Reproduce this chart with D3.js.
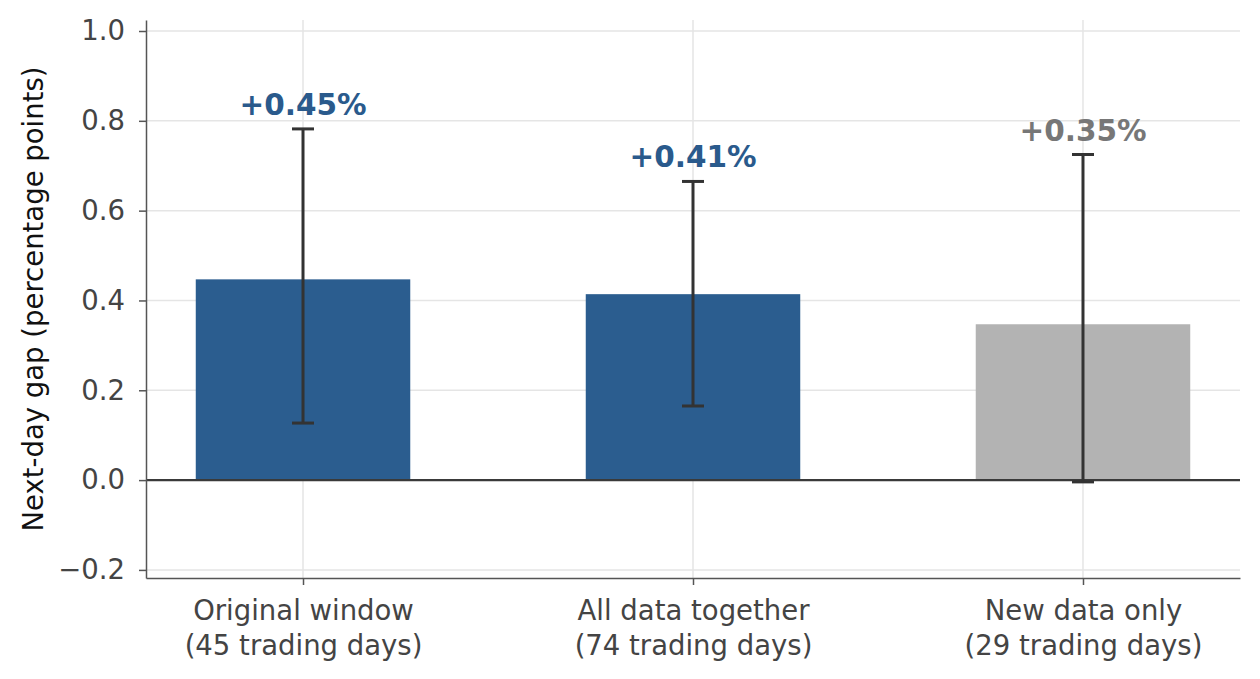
<!DOCTYPE html>
<html>
<head>
<meta charset="utf-8">
<script src="https://cdn.jsdelivr.net/npm/d3@7"></script>
<style>
  body { margin: 0; background: #fff; }
  svg { display: block; }
  svg text { font-family: "DejaVu Sans", sans-serif; }
</style>
</head>
<body>
<div id="chart"></div>
<script>
// chart data
const groups = ["Original window", "All data together", "New data only"];
const groupDays = ["(45 trading days)", "(74 trading days)", "(29 trading days)"];
const means = [0.447, 0.414, 0.347];
const ciLow = [0.127, 0.165, -0.004];
const ciHigh = [0.782, 0.665, 0.725];
const barLabels = ["+0.45%", "+0.41%", "+0.35%"];
const highlight = [true, true, false];
const yTicks = [-0.2, 0.0, 0.2, 0.4, 0.6, 0.8, 1.0];

const width = 1260, height = 679;
const margin = {left: 146, top: 20, right: 20, bottom: 101};
const blue = "#2b5d8f", grey = "#b3b3b3";
const fs = 27.5;

const svg = d3.select("#chart").append("svg")
    .attr("width", width)
    .attr("height", height);

const x = d3.scaleLinear()
    .domain([-0.4026, 2.4026])
    .range([margin.left, width - margin.right]);

const y = d3.scaleLinear()
    .domain([-0.218, 1.0245])
    .range([height - margin.bottom, margin.top]);

const idx = d3.range(groups.length);
const barW = x(0.55) - x(0);

// grid lines
svg.append("g")
    .selectAll("line")
    .data(yTicks)
    .join("line")
    .attr("x1", margin.left).attr("x2", width - margin.right)
    .attr("y1", d => y(d)).attr("y2", d => y(d))
    .attr("stroke", "#e5e5e5").attr("stroke-width", 1.5);

svg.append("g")
    .selectAll("line")
    .data(idx)
    .join("line")
    .attr("x1", d => x(d)).attr("x2", d => x(d))
    .attr("y1", margin.top).attr("y2", height - margin.bottom)
    .attr("stroke", "#e5e5e5").attr("stroke-width", 1.5);

// bars
svg.append("g")
    .selectAll("rect")
    .data(idx)
    .join("rect")
    .attr("x", i => x(i) - barW / 2)
    .attr("width", barW)
    .attr("y", i => y(Math.max(0, means[i])))
    .attr("height", i => Math.abs(y(means[i]) - y(0)))
    .attr("fill", i => highlight[i] ? blue : grey);

// zero line
svg.append("line")
    .attr("x1", margin.left).attr("x2", width - margin.right)
    .attr("y1", y(0)).attr("y2", y(0))
    .attr("stroke", "#3a3a3a").attr("stroke-width", 2.2);

// error bars
const err = svg.append("g")
    .attr("stroke", "#333")
    .attr("stroke-width", 3);

err.selectAll(".stem")
    .data(idx)
    .join("line")
    .attr("class", "stem")
    .attr("x1", i => x(i)).attr("x2", i => x(i))
    .attr("y1", i => y(ciLow[i])).attr("y2", i => y(ciHigh[i]));

err.selectAll(".capHi")
    .data(idx)
    .join("line")
    .attr("class", "capHi")
    .attr("x1", i => x(i) - 11).attr("x2", i => x(i) + 11)
    .attr("y1", i => y(ciHigh[i])).attr("y2", i => y(ciHigh[i]));

err.selectAll(".capLo")
    .data(idx)
    .join("line")
    .attr("class", "capLo")
    .attr("x1", i => x(i) - 11).attr("x2", i => x(i) + 11)
    .attr("y1", i => y(ciLow[i])).attr("y2", i => y(ciLow[i]));

// value labels above the error bars
svg.append("g")
    .selectAll("text")
    .data(idx)
    .join("text")
    .attr("x", i => x(i))
    .attr("y", i => y(ciHigh[i]) - 14)
    .attr("text-anchor", "middle")
    .attr("font-size", 29.5)
    .attr("font-weight", "bold")
    .attr("fill", i => highlight[i] ? "#2a5a8c" : "#777777")
    .text(i => barLabels[i]);

// y axis
const yAxis = svg.append("g")
    .attr("transform", `translate(${margin.left},0)`)
    .call(d3.axisLeft(y)
        .tickValues(yTicks)
        .tickSize(7)
        .tickSizeOuter(0)
        .tickPadding(14)
        .tickFormat(d => d3.format(".1f")(d).replace("-", "\u2212")));

// x axis
const xAxis = svg.append("g")
    .attr("transform", `translate(0,${height - margin.bottom})`)
    .call(d3.axisBottom(x)
        .tickValues(idx)
        .tickSize(7)
        .tickSizeOuter(0)
        .tickFormat(""));

xAxis.selectAll(".tick")
    .append("text")
    .attr("text-anchor", "middle")
    .attr("fill", "#444")
    .attr("font-size", fs)
    .selectAll("tspan")
    .data(i => [groups[i], groupDays[i]])
    .join("tspan")
    .attr("x", 0)
    .attr("y", (d, j) => 42 + j * 35)
    .text(d => d);

[yAxis, xAxis].forEach(ax => {
    ax.attr("font-family", null).attr("font-size", null);
    ax.select(".domain").attr("stroke", "#555").attr("stroke-width", 1.5);
    ax.selectAll(".tick line").attr("stroke", "#555").attr("stroke-width", 1.5);
});
yAxis.selectAll(".tick text")
    .attr("font-size", fs)
    .attr("fill", "#444");

// y label
svg.append("text")
    .attr("transform", `translate(43,${(margin.top + height - margin.bottom) / 2}) rotate(-90)`)
    .attr("text-anchor", "middle")
    .attr("font-size", fs)
    .attr("fill", "#111")
    .text("Next-day gap (percentage points)");
</script>
</body>
</html>
